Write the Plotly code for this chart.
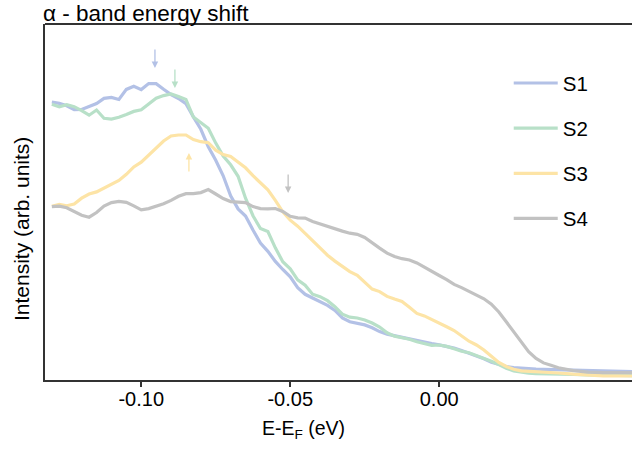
import plotly.graph_objects as go

energy = [-0.1300, -0.1275, -0.1250, -0.1225, -0.1200, -0.1175, -0.1150, -0.1125, -0.1100, -0.1075,
          -0.1050, -0.1025, -0.1000, -0.0975, -0.0950, -0.0925, -0.0900, -0.0875, -0.0850, -0.0825,
          -0.0800, -0.0775, -0.0750, -0.0725, -0.0700, -0.0675, -0.0650, -0.0625, -0.0600, -0.0575,
          -0.0550, -0.0525, -0.0500, -0.0475, -0.0450, -0.0425, -0.0400, -0.0375, -0.0350, -0.0325,
          -0.0300, -0.0275, -0.0250, -0.0225, -0.0200, -0.0175, -0.0150, -0.0125, -0.0100, -0.0075,
          -0.0050, -0.0025, 0.0000, 0.0025, 0.0050, 0.0075, 0.0100, 0.0125, 0.0150, 0.0175,
          0.0200, 0.0225, 0.0250, 0.0275, 0.0300, 0.0325, 0.0350, 0.0375, 0.0400, 0.0450,
          0.0500, 0.0550, 0.0600, 0.0650]

s1 = [278.0, 276.7, 274.2, 270.3, 270.5, 273.2, 276.4, 281.6, 282.5, 280.5,
      290.6, 293.7, 290.4, 296.4, 296.3, 290.7, 285.4, 281.5, 276.3, 263.1,
      250.7, 233.3, 219.7, 204.2, 184.3, 171.1, 164.0, 149.9, 136.9, 128.7,
      118.6, 110.5, 103.1, 92.3, 85.7, 82.0, 78.3, 74.6, 69.6, 62.1,
      58.3, 57.1, 55.1, 52.2, 48.4, 45.9, 44.2, 42.8, 40.8, 39.0,
      37.6, 36.4, 35.1, 33.9, 31.9, 29.5, 27.0, 24.5, 21.3, 17.8,
      15.4, 13.5, 12.3, 11.6, 11.3, 10.9, 10.6, 10.4, 10.1, 9.5,
      8.7, 8.3, 8.3, 8.3]

s2 = [275.8, 273.2, 275.3, 273.3, 269.4, 264.8, 270.0, 261.7, 260.9, 262.8,
      265.6, 268.6, 270.3, 276.5, 281.8, 284.4, 286.0, 283.4, 280.5, 262.9,
      257.8, 251.8, 236.9, 224.0, 215.2, 203.7, 181.8, 164.3, 151.5, 148.4,
      132.2, 118.3, 111.1, 100.1, 94.8, 85.8, 83.3, 79.3, 73.3, 65.8,
      62.8, 62.0, 60.1, 57.0, 52.9, 47.2, 43.9, 42.3, 40.8, 38.3,
      36.1, 34.6, 35.0, 33.6, 31.3, 28.7, 27.2, 24.6, 21.8, 18.8,
      15.5, 11.8, 9.1, 7.6, 6.9, 6.3, 6.0, 5.9, 5.8, 5.5,
      5.2, 4.9, 4.6, 4.3]

s3 = [173.8, 175.7, 174.3, 176.0, 181.8, 186.0, 188.1, 191.7, 195.4, 199.6,
      205.7, 213.1, 217.8, 224.8, 232.0, 239.0, 244.0, 245.0, 245.0, 240.4,
      238.3, 237.3, 229.8, 225.4, 223.5, 218.2, 212.2, 204.3, 196.8, 190.1,
      179.6, 168.2, 159.8, 153.8, 146.7, 139.2, 132.0, 124.8, 118.9, 113.7,
      108.4, 104.6, 97.7, 90.9, 88.4, 83.6, 80.9, 78.5, 72.7, 66.6,
      64.1, 60.7, 57.0, 53.3, 49.5, 44.2, 38.8, 35.0, 30.0, 23.8,
      17.6, 13.5, 10.8, 9.2, 8.9, 8.5, 8.0, 7.5, 7.0, 5.8,
      4.7, 4.2, 4.1, 4.0]

s4 = [173.4, 173.8, 172.3, 168.2, 164.7, 162.8, 167.5, 174.0, 177.4, 178.7,
      177.7, 174.1, 170.1, 171.4, 173.5, 176.2, 179.6, 183.7, 186.3, 186.3,
      187.4, 190.4, 186.0, 181.5, 178.4, 177.7, 177.4, 173.4, 171.4, 171.1,
      171.5, 168.5, 163.7, 162.1, 161.9, 158.6, 156.0, 153.8, 151.6, 148.9,
      146.8, 145.7, 142.5, 136.8, 131.9, 126.9, 123.5, 121.3, 120.0, 117.1,
      112.6, 108.2, 104.5, 100.4, 95.6, 92.4, 88.8, 85.1, 81.2, 75.8,
      68.0, 58.2, 48.2, 38.3, 28.4, 21.5, 17.1, 14.7, 12.2, 9.4,
      7.9, 7.3, 7.3, 7.3]

series_names = ["S1", "S2", "S3", "S4"]
series_values = [s1, s2, s3, s4]
colors = ["#b3c1e6", "#b8e0c8", "#fde4a6", "#c2c2c2"]

# band-shift markers: (energy, intensity at arrow head, direction)
arrow_energy = [-0.0954, -0.0887, -0.0840, -0.0507]
arrow_level = [312, 292, 227, 187]
arrow_dir = ["down", "down", "up", "down"]

tick_vals = [-0.10, -0.05, 0.00]
tick_text = ["-0.10", "-0.05", "0.00"]

FONT = "Liberation Sans, Arial, Helvetica, sans-serif"

fig = go.Figure()
for i, (name, vals) in enumerate(zip(series_names, series_values)):
    fig.add_trace(go.Scatter(
        x=energy, y=vals, mode="lines", name=name,
        line=dict(color=colors[i], width=3.2),
        legendgroup=name,
    ))

for xe, yl, d, c in zip(arrow_energy, arrow_level, arrow_dir, colors):
    fig.add_annotation(
        x=xe, y=yl, xref="x", yref="y", text="", showarrow=True,
        ax=0, ay=(-20 if d == "down" else 20),
        arrowhead=2, arrowsize=1, arrowwidth=1.3, arrowcolor=c,
    )

# chart title
fig.add_annotation(
    x=0, y=1, xref="paper", yref="paper", xanchor="left", yanchor="bottom",
    text="α - band energy shift", showarrow=False, xshift=-4,
    font=dict(size=22.5, color="black", family=FONT), yshift=-4,
)
# x-axis label
fig.add_annotation(
    x=0.441, y=-0.140, xref="paper", yref="paper", xanchor="center", yanchor="middle",
    text="E-E<sub>F</sub> (eV)", showarrow=False,
    font=dict(size=19.5, color="black", family=FONT),
)
# y-axis label
fig.add_annotation(
    x=0, y=0.424, xref="paper", yref="paper", xanchor="center", yanchor="middle",
    xshift=-24, textangle=-90,
    text="Intensity (arb. units)", showarrow=False,
    font=dict(size=21, color="black", family=FONT),
)

fig.add_shape(type="line", xref="paper", yref="paper", x0=0, x1=1, y0=1, y1=1,
              line=dict(color="#333333", width=2))

fig.update_layout(
    width=632, height=452,
    margin=dict(l=45, r=0, t=24, b=72),
    paper_bgcolor="white", plot_bgcolor="white",
    font=dict(family=FONT, size=19, color="black"),
    showlegend=True,
    legend=dict(
        x=0.79, y=0.89, xanchor="left", yanchor="top",
        font=dict(size=20.5, family=FONT, color="black"),
        bgcolor="rgba(0,0,0,0)", traceorder="grouped", tracegroupgap=15.5,
        itemwidth=44,
    ),
    xaxis=dict(
        range=[-0.1323, 0.0647], showgrid=False, zeroline=False,
        showline=True, linecolor="#333333", linewidth=2,
        ticks="outside", ticklen=5, tickwidth=1.5, tickcolor="#333333",
        tickvals=tick_vals, ticktext=tick_text, automargin=False,
        ticklabelstandoff=-5,
        tickfont=dict(size=20, family=FONT, color="black"),
    ),
    yaxis=dict(
        range=[0, 356], showgrid=False, zeroline=False,
        showline=True, linecolor="#333333", linewidth=2,
        showticklabels=False, ticks="", automargin=False,
    ),
)

fig.write_html(
    "out.html",
    config={"displayModeBar": False},
    post_script="document.body.style.margin='0';document.body.style.padding='0';",
)
